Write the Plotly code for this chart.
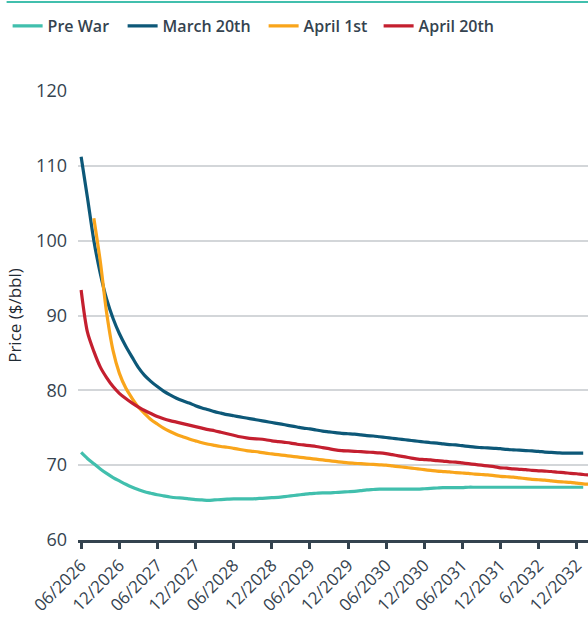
import pandas as pd
import plotly.graph_objects as go

# Monthly forward-curve points, first month = June 2026
months = pd.date_range("2026-06-01", periods=81, freq="MS")

pre_war = [
    71.7, 70.9, 70.2, 69.5, 68.9, 68.35, 67.9, 67.45, 67.05, 66.75,
    66.45, 66.25, 66.05, 65.9, 65.75, 65.65, 65.6, 65.5, 65.4, 65.35,
    65.3, 65.35, 65.4, 65.45, 65.5, 65.5, 65.5, 65.5, 65.55, 65.6,
    65.65, 65.7, 65.8, 65.9, 66.0, 66.1, 66.2, 66.25, 66.3, 66.3,
    66.35, 66.4, 66.45, 66.5, 66.6, 66.7, 66.75, 66.8, 66.8, 66.8,
    66.8, 66.8, 66.8, 66.8, 66.85, 66.9, 66.95, 67.0, 67.0, 67.0,
    67.0, 67.05, 67.05, 67.05, 67.05, 67.05, 67.05, 67.05, 67.05, 67.05,
    67.05, 67.05, 67.05, 67.05, 67.05, 67.05, 67.05, 67.05, 67.05, 67.05,
]

march_20 = [
    111.2, 105.8, 100.0, 95.6, 92.2, 89.6, 87.6, 85.9, 84.4, 83.1,
    82.0, 81.2, 80.5, 79.9, 79.4, 78.95, 78.6, 78.3, 77.95, 77.65,
    77.4, 77.15, 76.95, 76.75, 76.6, 76.45, 76.3, 76.15, 76.0, 75.85,
    75.7, 75.55, 75.4, 75.25, 75.1, 74.95, 74.85, 74.7, 74.55, 74.45,
    74.35, 74.25, 74.2, 74.15, 74.05, 73.95, 73.9, 73.8, 73.7, 73.6,
    73.5, 73.4, 73.3, 73.2, 73.1, 73.0, 72.95, 72.85, 72.75, 72.7,
    72.6, 72.5, 72.4, 72.35, 72.3, 72.25, 72.2, 72.1, 72.05, 72.0,
    71.95, 71.9, 71.85, 71.75, 71.7, 71.65, 71.6, 71.6, 71.6, 71.6,
]

# April 1st curve begins in August 2026
april_1 = [
    103.0, 97.2, 90.4, 85.3, 82.3, 80.3, 78.9, 77.8,
    76.9, 76.1, 75.5, 74.95, 74.5, 74.1, 73.8, 73.5, 73.25, 73.0,
    72.8, 72.65, 72.5, 72.4, 72.25, 72.1, 71.95, 71.85, 71.75, 71.6,
    71.5, 71.4, 71.3, 71.2, 71.1, 71.0, 70.9, 70.8, 70.7, 70.6,
    70.5, 70.4, 70.3, 70.25, 70.2, 70.15, 70.1, 70.05, 70.0, 69.9,
    69.8, 69.7, 69.6, 69.5, 69.4, 69.3, 69.2, 69.15, 69.1, 69.0,
    68.95, 68.9, 68.8, 68.75, 68.7, 68.6, 68.5, 68.45, 68.4, 68.3,
    68.2, 68.1, 68.05, 68.0, 67.9, 67.8, 67.75, 67.7, 67.6, 67.5,
    67.45,
]

april_20 = [
    93.4, 87.8, 85.2, 83.1, 81.7, 80.5, 79.6, 78.9, 78.3, 77.8,
    77.3, 76.9, 76.5, 76.2, 75.95, 75.75, 75.55, 75.35, 75.15, 74.95,
    74.75, 74.6, 74.4, 74.2, 74.0, 73.8, 73.65, 73.55, 73.5, 73.4,
    73.25, 73.15, 73.05, 72.95, 72.8, 72.7, 72.6, 72.5, 72.35, 72.2,
    72.05, 71.95, 71.9, 71.85, 71.8, 71.75, 71.7, 71.65, 71.55, 71.4,
    71.25, 71.1, 70.95, 70.8, 70.75, 70.7, 70.6, 70.55, 70.45, 70.4,
    70.3, 70.2, 70.1, 70.0, 69.9, 69.8, 69.65, 69.6, 69.5, 69.45,
    69.4, 69.3, 69.25, 69.2, 69.15, 69.05, 69.0, 68.9, 68.85, 68.75,
    68.7,
]

tick_dates = [
    "2026-06-01", "2026-12-01", "2027-06-01", "2027-12-01", "2028-06-01",
    "2028-12-01", "2029-06-01", "2029-12-01", "2030-06-01", "2030-12-01",
    "2031-06-01", "2031-12-01", "2032-06-01", "2032-12-01",
]
tick_labels = [
    "06/2026", "12/2026", "06/2027", "12/2027", "06/2028",
    "12/2028", "06/2029", "12/2029", "06/2030", "12/2030",
    "06/2031", "12/2031", "6/2032", "12/2032",
]

y_ticks = [60, 70, 80, 90, 100, 110, 120]

# name, x, y, colour, legend entry width
series = [
    ("Pre War", months[:len(pre_war)], pre_war, "#41BFAD", 70),
    ("March 20th", months[:len(march_20)], march_20, "#0D5878", 96),
    ("April 1st", months[2:2 + len(april_1)], april_1, "#F9A51B", 70),
    ("April 20th", months[:len(april_20)], april_20, "#C41F2F", 80),
]

TEXT = "#35434F"
FONT = "'Open Sans', Lato, sans-serif"

fig = go.Figure()
for name, xs, ys, color, lw in series:
    fig.add_trace(go.Scatter(
        x=xs, y=ys, name=name, mode="lines", legendwidth=lw,
        line=dict(color=color, width=3.2, shape="spline", smoothing=0.8),
    ))

fig.update_layout(
    width=588, height=623,
    margin=dict(l=77.5, r=0, t=91, b=83),
    paper_bgcolor="white", plot_bgcolor="white",
    font=dict(family=FONT, color=TEXT),
    showlegend=True,
    legend=dict(
        orientation="h", x=-0.138, xanchor="left", y=1.145, yanchor="middle",
        font=dict(size=16, color=TEXT, family=FONT, weight=600),
        itemwidth=30, tracegroupgap=0,
    ),
    shapes=[dict(
        type="line", xref="paper", yref="paper",
        x0=-0.140, x1=1.0, y0=1.198, y1=1.198,
        line=dict(color="#41BFAD", width=2),
    )],
)

fig.update_xaxes(
    type="date",
    range=["2026-05-17", "2033-01-24"],
    tickmode="array", tickvals=tick_dates, ticktext=tick_labels,
    tickangle=-45, tickfont=dict(size=17, color=TEXT),
    showgrid=False, zeroline=False,
    showline=True, linecolor="#34434F", linewidth=2.5,
    ticks="outside", ticklen=6, tickwidth=2.5, tickcolor="#34434F",
)

fig.update_yaxes(
    range=[60, 120],
    tickmode="array", tickvals=y_ticks,
    tickfont=dict(size=18, color=TEXT),
    showgrid=True, gridcolor="#D3D6D9", gridwidth=1.5,
    zeroline=False, showline=False, ticks="",
    ticklabelstandoff=10,
    title=dict(text="Price ($/bbl)", font=dict(size=17, color="#1F2A33"), standoff=10),
)

fig.write_html("out.html")
